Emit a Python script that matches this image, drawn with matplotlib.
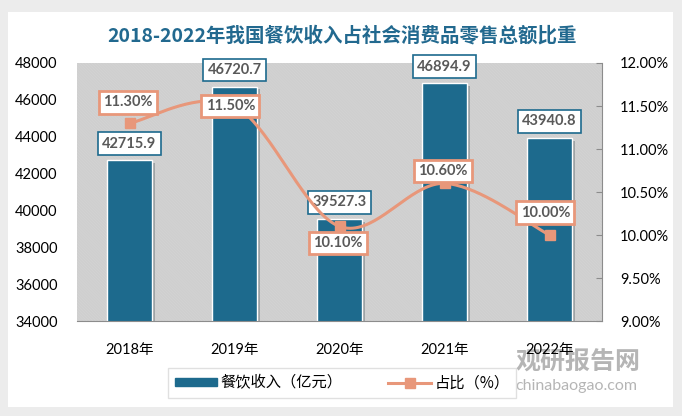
import numpy as np
import matplotlib
matplotlib.use("Agg")
import matplotlib.pyplot as plt
from matplotlib.patches import Rectangle
from matplotlib.lines import Line2D
import matplotlib.patheffects as pe

plt.rcParams['font.family'] = ['Lato', 'Noto Sans CJK SC', 'DejaVu Sans']
plt.rcParams['hatch.linewidth'] = 0.7
plt.rcParams['hatch.color'] = '#CCCCCC'

# data
years = ['2018年', '2019年', '2020年', '2021年', '2022年']
revenue = [42715.9, 46720.7, 39527.3, 46894.9, 43940.8]      # 亿元
share = [11.30, 11.50, 10.10, 10.60, 10.00]                  # %
title = '2018-2022年我国餐饮收入占社会消费品零售总额比重'

# label offsets (points) for the percent boxes
pct_offsets = [(-1, 15), (-3, 0), (-1, -12), (-1, 9), (-3, 16)]

bar_color = '#1D6A8D'
line_color = '#E8977A'
text_gray = '#595959'

W, H = 682, 416
fig = plt.figure(figsize=(W / 100, H / 100), dpi=100, facecolor='#ECECEC')
card = Rectangle((8 / W, 9 / H), 665 / W, 395 / H, transform=fig.transFigure,
                 facecolor='white', edgecolor='none', zorder=-5)
fig.add_artist(card)

# watermark (behind the chart)
fig.text(578 / W, 1 - 362 / H, '观研报告网', ha='center', va='center', fontsize=18,
         fontweight='bold', color='#A3A3A3', alpha=0.8, family=['Noto Sans CJK SC'], zorder=-4)
fig.text(576 / W, 1 - 386 / H, 'chinabaogao.com', ha='center', va='center', fontsize=11.5,
         color='#A3A3A3', alpha=0.8, zorder=-4)

ax = fig.add_axes([77 / W, (H - 321) / H, 525 / W, 258 / H])
ax.set_facecolor('none')
ax.add_patch(Rectangle((0, 0), 1, 1, transform=ax.transAxes, facecolor='white',
                       hatch='\\' * 22, edgecolor='#CCCCCC', lw=0, zorder=0))

x = np.arange(len(years))
bars = ax.bar(x, revenue, width=0.43, color=bar_color, edgecolor='white', lw=1, zorder=2)
for b in bars:
    b.set_path_effects([pe.SimplePatchShadow(offset=(2, -2), alpha=0.25), pe.Normal()])

ax.set_xlim(-0.5, len(years) - 0.5)
ax.set_ylim(34000, 48000)
ax.set_yticks(np.arange(34000, 48001, 2000))
ax.set_xticks(x)
ax.set_xticklabels(years)
ax.tick_params(axis='y', length=0, pad=14, labelsize=10.5, labelcolor='black')
ax.tick_params(axis='x', length=0, pad=16, labelsize=10.5, labelcolor='black')
for s in ['top', 'left', 'right']:
    ax.spines[s].set_visible(False)
ax.spines['bottom'].set_color('#8C8C8C')

for xi, v in zip(x, revenue):
    ax.annotate(f'{v:.1f}', (xi, v), xytext=(0, 12), textcoords='offset points',
                ha='center', va='center', fontsize=10.5, fontweight='bold', color=text_gray,
                bbox=dict(boxstyle='square,pad=0.3', fc='white', ec=bar_color, lw=1.2), zorder=6)

ax2 = ax.twinx()
ax2.set_ylim(9, 12)
ax2.set_yticks(np.arange(9, 12.01, 0.5))
ax2.set_yticklabels([f'{t:.2f}%' for t in np.arange(9, 12.01, 0.5)])
ax2.tick_params(axis='y', direction='in', length=4, color='#8C8C8C', pad=13, labelsize=10.5)
for s in ['top', 'left', 'bottom']:
    ax2.spines[s].set_visible(False)
ax2.spines['right'].set_color('#8C8C8C')

# smoothed line (Bezier through the points, like Excel smoothing)
pts = np.column_stack([x, share]).astype(float)
ext = np.vstack([pts[0], pts, pts[-1]])
cx, cy = [], []
t = np.linspace(0, 1, 40)
for i in range(len(pts) - 1):
    p0, p1, p2, p3 = ext[i], ext[i + 1], ext[i + 2], ext[i + 3]
    c1 = p1 + (p2 - p0) / 6
    c2 = p2 - (p3 - p1) / 6
    seg = ((1 - t) ** 3)[:, None] * p1 + (3 * (1 - t) ** 2 * t)[:, None] * c1 \
        + (3 * (1 - t) * t ** 2)[:, None] * c2 + (t ** 3)[:, None] * p2
    cx.extend(seg[:, 0])
    cy.extend(seg[:, 1])
ax2.plot(cx, cy, color=line_color, lw=2.2, zorder=3)
ax2.plot(x, share, 's', color=line_color, ms=7, zorder=4)

for xi, v, off in zip(x, share, pct_offsets):
    ax2.annotate(f'{v:.2f}%', (xi, v), xytext=off, textcoords='offset points',
                 ha='center', va='center', fontsize=10.5, fontweight='bold', color=text_gray,
                 bbox=dict(boxstyle='square,pad=0.3', fc='white', ec=line_color, lw=2), zorder=7)

fig.text(342 / W, 1 - 36 / H, title, ha='center', va='center', fontsize=14,
         fontweight='bold', color='#22698F', family=['Noto Sans CJK SC'])

handles = [Rectangle((0, 0), 1, 1, color=bar_color),
           Line2D([0], [0], color=line_color, lw=2.2, marker='s', ms=7)]
leg = fig.legend(handles, ['餐饮收入（亿元）', '占比（%）'], loc='center',
                 bbox_to_anchor=(342 / W, 1 - 383 / H), ncol=2, frameon=True,
                 fancybox=False, edgecolor='#D9D9D9', handlelength=2.8,
                 handleheight=0.5, columnspacing=3.0, handletextpad=0.2, borderpad=0.45,
                 prop={'family': ['Noto Sans CJK SC'], 'size': 11})

fig.savefig('out.png', dpi=100, facecolor=fig.get_facecolor())
